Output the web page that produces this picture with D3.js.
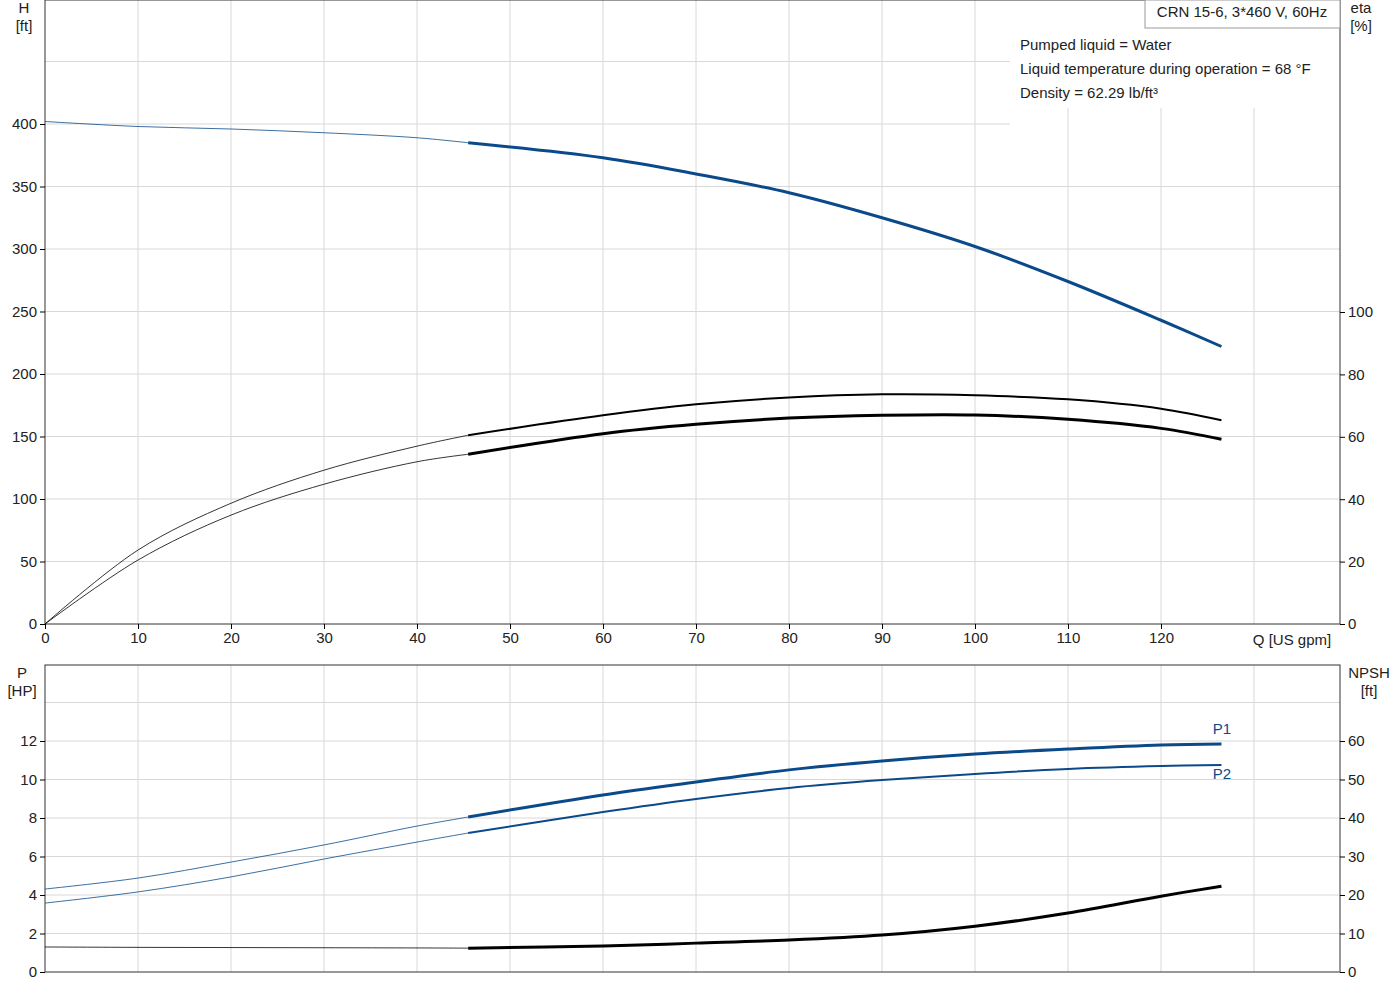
<!DOCTYPE html><html><head><meta charset="utf-8"><script src="https://cdn.jsdelivr.net/npm/d3@7"></script>
<style>body{margin:0;background:#fff}text{font-family:Arial,"Liberation Sans",sans-serif;font-size:15px;fill:#222}</style></head><body><svg id="c" width="1400" height="1000"></svg><script>
const qTicks=[0,10,20,30,40,50,60,70,80,90,100,110,120];
const hTicks=[0,50,100,150,200,250,300,350,400];
const etaTicks=[0,20,40,60,80,100];
const pTicks=[0,2,4,6,8,10,12];
const npshTicks=[0,10,20,30,40,50,60];
const qPts=[0,10,20,30,40,45.5,60,70,80,90,100,110,120,126.5];
const head=[402,398,396,393,389,385,373,360,345,325,302,274,243,222];
const eta1=[0,23.7,38.7,49.3,57,60.5,66.9,70.4,72.6,73.6,73.3,72,69,65.3];
const eta2=[0,20.5,34.9,44.8,52,54.4,61,64,66,66.9,67,65.6,62.7,59.2];
const p1=[4.31,4.88,5.71,6.6,7.58,8.05,9.2,9.87,10.5,10.96,11.32,11.58,11.79,11.84];
const p2=[3.58,4.16,4.94,5.87,6.75,7.22,8.31,8.99,9.56,9.97,10.29,10.55,10.7,10.75];
const npsh=[6.5,6.4,6.35,6.3,6.25,6.2,6.75,7.5,8.3,9.6,11.9,15.3,19.7,22.3];
const info=["Pumped liquid = Water","Liquid temperature during operation = 68 °F","Density = 62.29 lb/ft³"];
const svg=d3.select("#c");const blue="#0a4a8a";
const x=d3.scaleLinear().domain([0,10]).range([45,138.0]);
const X0=45,X1=1340;
const yH=d3.scaleLinear().domain([0,400]).range([624,124]);
const yE=d3.scaleLinear().domain([0,100]).range([624,312]);
const yP=d3.scaleLinear().domain([0,12]).range([972,741]);
const yN=d3.scaleLinear().domain([0,60]).range([972,741]);
const g=svg.append("g");
function panel(top,bot,ys,hs,isTop){
  qTicks.slice(1).concat([130]).forEach(q=>g.append("line").attr("x1",x(q)).attr("x2",x(q)).attr("y1",(isTop&&q>=110)?108:top).attr("y2",bot).attr("stroke","#d8d8d8"));
  hs.forEach(v=>g.append("line").attr("x1",X0).attr("x2",(isTop&&v>=400)?1010:X1).attr("y1",ys(v)).attr("y2",ys(v)).attr("stroke","#d8d8d8"));
  g.append("rect").attr("x",X0).attr("y",top).attr("width",X1-X0).attr("height",bot-top).attr("fill","none").attr("stroke","#333");
}
panel(0,624,yH,[50,100,150,200,250,300,350,400,450],true);
panel(665,972,yP,[2,4,6,8,10,12,14],false);
const ax=(a,t)=>g.append("g").attr("transform",t).call(a).call(s=>{s.select(".domain").remove();s.selectAll("text").style("font-size","15px").style("fill","#222")});
ax(d3.axisBottom(x).tickValues(qTicks).tickSize(5).tickFormat(d3.format("d")),`translate(0,624)`);
ax(d3.axisLeft(yH).tickValues(hTicks).tickSize(5),`translate(${X0},0)`);
ax(d3.axisRight(yE).tickValues(etaTicks).tickSize(5),`translate(${X1},0)`);
ax(d3.axisLeft(yP).tickValues(pTicks).tickSize(5),`translate(${X0},0)`);
ax(d3.axisRight(yN).tickValues(npshTicks).tickSize(5),`translate(${X1},0)`);
const T=(t,xx,yy,a="start",c="#222")=>g.append("text").attr("x",xx).attr("y",yy).attr("text-anchor",a).style("fill",c).text(t);
T("H",24,13,"middle");T("[ft]",24,31,"middle");T("eta",1361,13,"middle");T("[%]",1361,31,"middle");
T("Q [US gpm]",1292,645,"middle");T("P",22,678,"middle");T("[HP]",22,696,"middle");T("NPSH",1369,678,"middle");T("[ft]",1369,696,"middle");
g.append("rect").attr("x",1145).attr("y",0).attr("width",195).attr("height",28).attr("fill","#fff").attr("stroke","#999");
T("CRN 15-6, 3*460 V, 60Hz",1242,17,"middle");
info.forEach((s,i)=>T(s,1020,50+i*24));
function curve(vals,ys,col,w){
  const pts=qPts.map((q,i)=>[x(q),ys(vals[i])]);
  const ln=d3.line().curve(d3.curveCatmullRom.alpha(0.5));
  g.append("path").attr("d",ln(pts.slice(0,6))).attr("fill","none").attr("stroke",col).attr("stroke-width",0.8);
  g.append("path").attr("d",ln(pts.slice(5))).attr("fill","none").attr("stroke",col).attr("stroke-width",w);
}
curve(head,yH,blue,3);curve(eta1,yE,"#000",2);curve(eta2,yE,"#000",3);
curve(p1,yP,blue,3);curve(p2,yP,blue,2);curve(npsh,yN,"#000",3);
T("P1",1222,734,"middle",blue);T("P2",1222,779,"middle",blue);
</script></body></html>
